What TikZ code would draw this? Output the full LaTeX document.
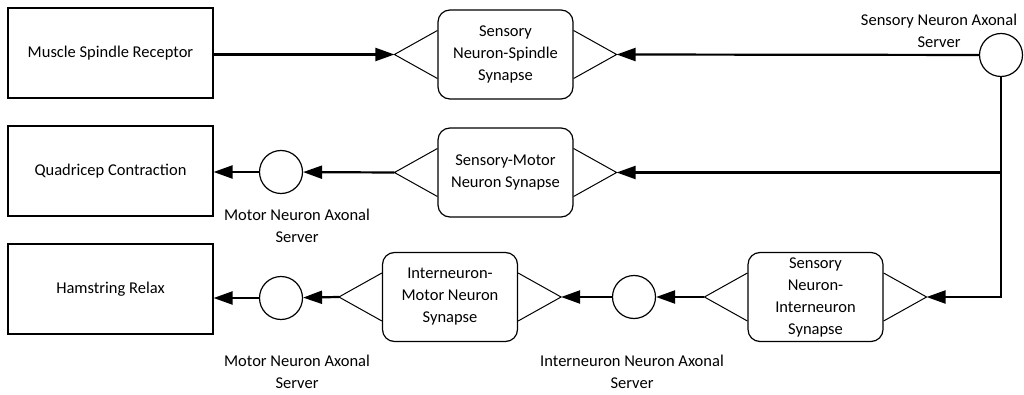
\documentclass[tikz,border=0pt]{standalone}
\usepackage{fontspec}
\setmainfont{Carlito}
\usetikzlibrary{arrows.meta,calc,positioning}

\begin{document}
\begin{tikzpicture}[x=1pt,y=-1pt,>={Triangle[length=19pt,width=13pt]},
  every node/.style={font=\fontsize{16.5}{22}\selectfont},
  box/.style={rectangle,draw,line width=1.2pt,minimum width=205pt,minimum height=90pt},
  synapse/.style={rectangle,rounded corners=12pt,draw,line width=1.2pt,minimum width=135pt,minimum height=89pt,inner sep=2pt,align=center},
  axon/.style={circle,draw,line width=1.2pt,minimum size=43pt,inner sep=0pt},
  tag/.style={align=center},
  wire/.style={->,line width=2.2pt},
  fan/.style={line width=1pt}]

  \useasboundingbox (0,0) rectangle (1024,395);

  % muscles
  \node[box] (spindle) at (110.5,53) {Muscle Spindle Receptor};
  \node[box] (quad) at (110.5,171) {Quadricep Contraction};
  \node[box] (ham) at (110.5,289) {Hamstring Relax};

  % synapses
  \node[synapse] (sp) at (505.5,54.5) {Sensory\\Neuron-Spindle\\Synapse};
  \node[synapse] (sm) at (505.5,172.5) {Sensory-Motor\\Neuron Synapse};
  \node[synapse] (imn) at (450,297) {Interneuron-\\Motor Neuron\\Synapse};
  \node[synapse] (sin) at (815.5,297) {Sensory\\Neuron-\\Interneuron\\Synapse};

  % input/output fans on both sides of each synapse
  \foreach \s in {sp,sm,imn,sin} {
    \coordinate (\s-l) at ($(\s.west)+(-43,0)$);
    \coordinate (\s-r) at ($(\s.east)+(43,0)$);
    \draw[fan] ($(\s.west)+(0,-24)$) -- (\s-l) -- ($(\s.west)+(0,24)$);
    \draw[fan] ($(\s.east)+(0,-24)$) -- (\s-r) -- ($(\s.east)+(0,24)$);
  }

  % axonal servers
  \node[axon] (sna) at (1001,55) {};
  \node[axon] (mna1) at (281,172) {};
  \node[axon] (mna2) at (281,298) {};
  \node[axon] (ina) at (634,297) {};

  \node[tag] (sna-tag) at (939,31) {Sensory Neuron Axonal\\Server};
  \node[tag] (mna1-tag) at (297,226) {Motor Neuron Axonal\\Server};
  \node[tag] (mna2-tag) at (297,372) {Motor Neuron Axonal\\Server};
  \node[tag] (ina-tag) at (632,372) {Interneuron Neuron Axonal\\Server};

  % signal paths
  \draw[wire] (spindle.east |- sp-l) -- (sp-l);
  \draw[wire] (sna) -- (sp-r);
  \draw[wire] (sna) -- (sna |- sin-r) -- (sin-r);
  \draw[wire] (sna |- sm-r) -- (sm-r);
  \draw[wire] (sm-l) -- (mna1);
  \draw[wire] (mna1) -- (quad.east |- mna1);
  \draw[wire] (sin-l) -- (ina);
  \draw[wire] (ina) -- (imn-r);
  \draw[wire] (imn-l) -- (mna2);
  \draw[wire] (mna2) -- (ham.east |- mna2);
\end{tikzpicture}
\end{document}
